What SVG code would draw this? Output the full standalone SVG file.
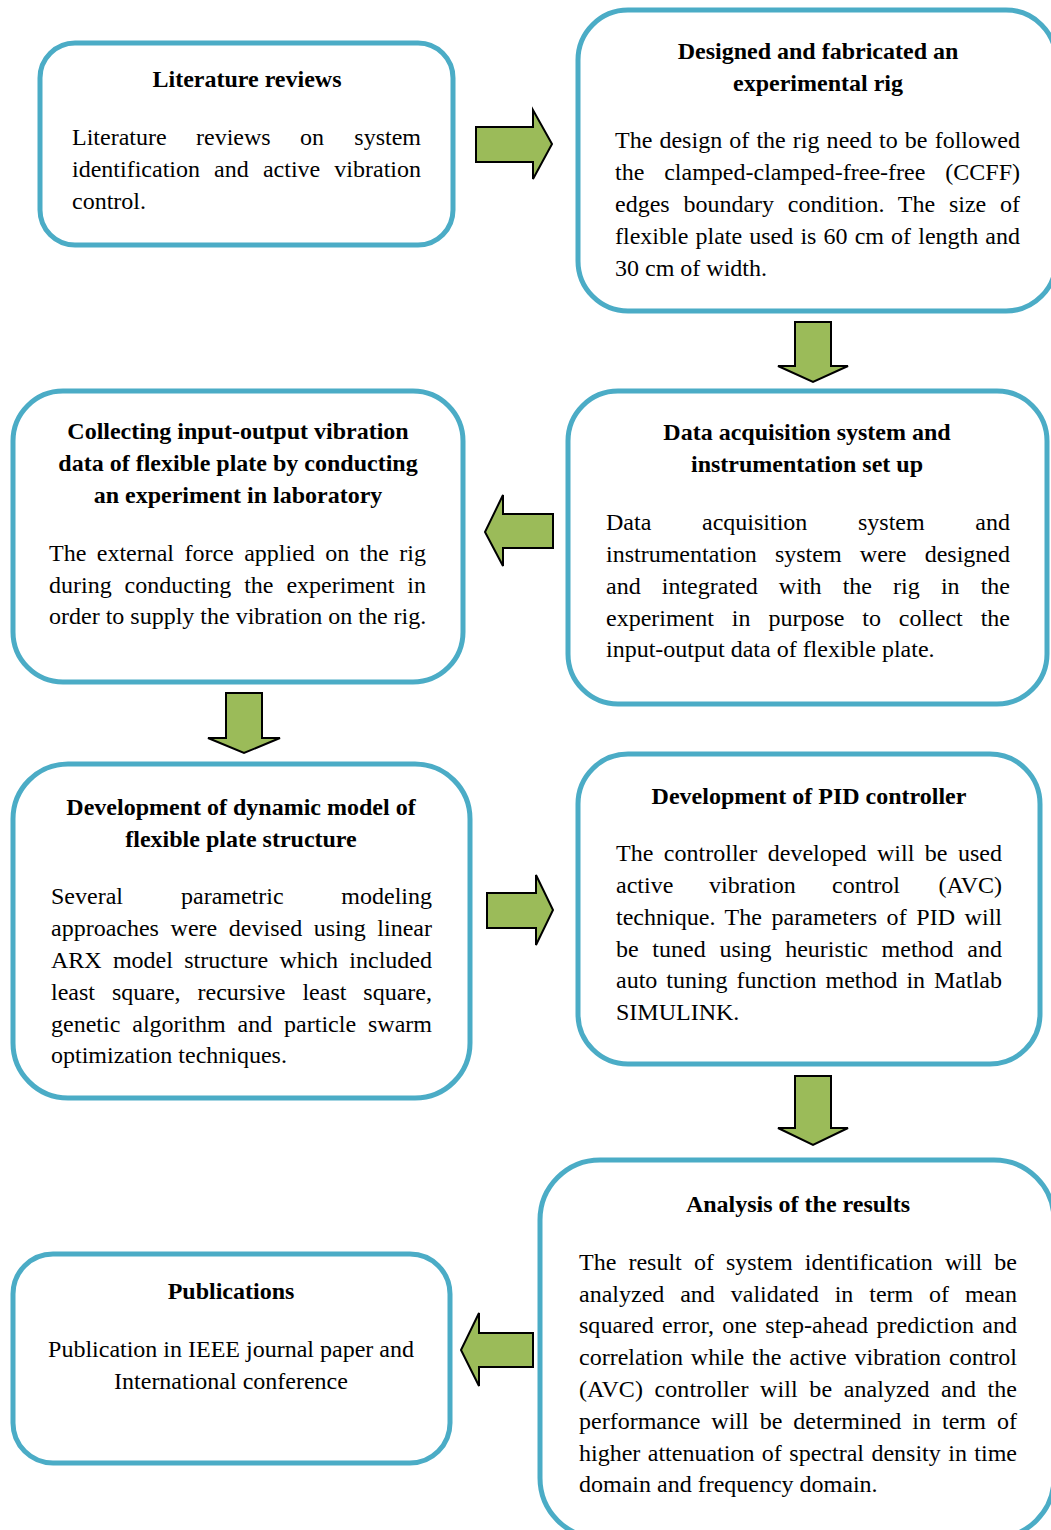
<svg xmlns="http://www.w3.org/2000/svg" width="1051" height="1530" viewBox="0 0 1051 1530">
<style>
.box{fill:#ffffff;stroke:#4BACC6;stroke-width:5}
.arr{fill:#9BBB59;stroke:#000000;stroke-width:2;stroke-linejoin:miter}
text{font-family:"Liberation Serif","Times New Roman",serif;font-size:24px;fill:#000000}
.t{font-weight:bold;text-anchor:middle}
.c{text-anchor:middle}
</style>
<rect width="1051" height="1530" fill="#ffffff"/>
<g id="connectors">
<polygon class="arr" points="476,127 533,127 533,110 552,144 533,179 533,162 476,162"/>
<polygon class="arr" points="795,322 831,322 831,366 848,366 813,382 778,366 795,366"/>
<polygon class="arr" points="553,514 503,514 503,495 485,532 503,566 503,548 553,548"/>
<polygon class="arr" points="226,693 262,693 262,738 280,738 244,753 208,738 226,738"/>
<polygon class="arr" points="487,893 536,893 536,875 553,910 536,945 536,928 487,928"/>
<polygon class="arr" points="795,1076 831,1076 831,1128 848,1128 813,1145 778,1128 795,1128"/>
<polygon class="arr" points="533,1333 479,1333 479,1313 461,1350 479,1386 479,1367 533,1367"/>
</g>
<g id="n1">
<rect class="box" x="40" y="43" width="413" height="202" rx="35"/>
<text class="t" x="247" y="87">Literature reviews</text>
<text x="72" y="145">Literature</text><text x="196" y="145">reviews</text><text x="300" y="145">on</text><text x="421" y="145" text-anchor="end">system</text>
<text x="72" y="177" word-spacing="8.1" textLength="349" lengthAdjust="spacing">identification and active vibration</text>
<text x="72" y="209">control.</text>
</g>
<g id="n2">
<rect class="box" x="578" y="10" width="478" height="301" rx="50"/>
<text class="t" x="818" y="59">Designed and fabricated an</text>
<text class="t" x="818" y="91">experimental rig</text>
<text x="615" y="148" word-spacing="1.1" textLength="405" lengthAdjust="spacing">The design of the rig need to be followed</text>
<text x="615" y="180" word-spacing="13.9" textLength="405" lengthAdjust="spacing">the clamped-clamped-free-free (CCFF)</text>
<text x="615" y="212" word-spacing="7.7" textLength="405" lengthAdjust="spacing">edges boundary condition. The size of</text>
<text x="615" y="244" word-spacing="1.1" textLength="405" lengthAdjust="spacing">flexible plate used is 60 cm of length and</text>
<text x="615" y="276">30 cm of width.</text>
</g>
<g id="n3">
<rect class="box" x="13" y="391" width="450" height="291" rx="50"/>
<text class="t" x="238" y="439">Collecting input-output vibration</text>
<text class="t" x="238" y="471">data of flexible plate by conducting</text>
<text class="t" x="238" y="503">an experiment in laboratory</text>
<text x="49" y="561" word-spacing="4.4" textLength="377" lengthAdjust="spacing">The external force applied on the rig</text>
<text x="49" y="593" word-spacing="6.9" textLength="377" lengthAdjust="spacing">during conducting the experiment in</text>
<text x="49" y="624">order to supply the vibration on the rig.</text>
</g>
<g id="n4">
<rect class="box" x="568" y="391" width="479" height="313" rx="50"/>
<text class="t" x="807" y="440">Data acquisition system and</text>
<text class="t" x="807" y="472">instrumentation set up</text>
<text x="606" y="530">Data</text><text x="702" y="530">acquisition</text><text x="858" y="530">system</text><text x="1010" y="530" text-anchor="end">and</text>
<text x="606" y="562" word-spacing="12.2" textLength="404" lengthAdjust="spacing">instrumentation system were designed</text>
<text x="606" y="594" word-spacing="15.1" textLength="404" lengthAdjust="spacing">and integrated with the rig in the</text>
<text x="606" y="626" word-spacing="11.9" textLength="404" lengthAdjust="spacing">experiment in purpose to collect the</text>
<text x="606" y="657">input-output data of flexible plate.</text>
</g>
<g id="n5">
<rect class="box" x="13" y="764" width="457" height="334" rx="55"/>
<text class="t" x="241" y="815">Development of dynamic model of</text>
<text class="t" x="241" y="847">flexible plate structure</text>
<text x="51" y="904">Several</text><text x="181" y="904">parametric</text><text x="432" y="904" text-anchor="end">modeling</text>
<text x="51" y="936" word-spacing="5.6" textLength="381" lengthAdjust="spacing">approaches were devised using linear</text>
<text x="51" y="968" word-spacing="5.25" textLength="381" lengthAdjust="spacing">ARX model structure which included</text>
<text x="51" y="1000" word-spacing="10.95" textLength="381" lengthAdjust="spacing">least square, recursive least square,</text>
<text x="51" y="1032" word-spacing="5.9" textLength="381" lengthAdjust="spacing">genetic algorithm and particle swarm</text>
<text x="51" y="1063">optimization techniques.</text>
</g>
<g id="n6">
<rect class="box" x="578" y="754" width="462" height="310" rx="50"/>
<text class="t" x="809" y="804">Development of PID controller</text>
<text x="616" y="861" word-spacing="4.5" textLength="386" lengthAdjust="spacing">The controller developed will be used</text>
<text x="616" y="893">active</text><text x="709" y="893">vibration</text><text x="832" y="893">control</text><text x="1002" y="893" text-anchor="end">(AVC)</text>
<text x="616" y="925" word-spacing="3.6" textLength="386" lengthAdjust="spacing">technique. The parameters of PID will</text>
<text x="616" y="957" word-spacing="7.7" textLength="386" lengthAdjust="spacing">be tuned using heuristic method and</text>
<text x="616" y="988" word-spacing="2.9" textLength="386" lengthAdjust="spacing">auto tuning function method in Matlab</text>
<text x="616" y="1020">SIMULINK.</text>
</g>
<g id="n7">
<rect class="box" x="540" y="1160" width="514" height="378" rx="60"/>
<text class="t" x="798" y="1212">Analysis of the results</text>
<text x="579" y="1270" word-spacing="6.1" textLength="438" lengthAdjust="spacing">The result of system identification will be</text>
<text x="579" y="1302" word-spacing="9.9" textLength="438" lengthAdjust="spacing">analyzed and validated in term of mean</text>
<text x="579" y="1333" word-spacing="2.3" textLength="438" lengthAdjust="spacing">squared error, one step-ahead prediction and</text>
<text x="579" y="1365" word-spacing="1.9" textLength="438" lengthAdjust="spacing">correlation while the active vibration control</text>
<text x="579" y="1397" word-spacing="5.5" textLength="438" lengthAdjust="spacing">(AVC) controller will be analyzed and the</text>
<text x="579" y="1429" word-spacing="5" textLength="438" lengthAdjust="spacing">performance will be determined in term of</text>
<text x="579" y="1461" word-spacing="1.45" textLength="438" lengthAdjust="spacing">higher attenuation of spectral density in time</text>
<text x="579" y="1492">domain and frequency domain.</text>
</g>
<g id="n8">
<rect class="box" x="13" y="1254" width="437" height="209" rx="40"/>
<text class="t" x="231" y="1299">Publications</text>
<text class="c" x="231" y="1357">Publication in IEEE journal paper and</text>
<text class="c" x="231" y="1389">International conference</text>
</g>
</svg>
